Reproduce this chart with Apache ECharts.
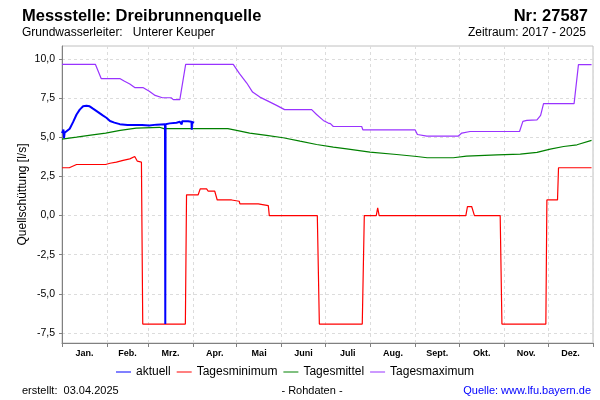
<!DOCTYPE html>
<html><head><meta charset="utf-8">
<script src="https://cdn.jsdelivr.net/npm/echarts@6/dist/echarts.min.js"></script>
<style>html,body{margin:0;padding:0;background:#fff}#c{width:600px;height:400px}</style>
</head><body><div id="c"></div>
<script>
const monthLabels = ['Jan.','Feb.','Mrz.','Apr.','Mai','Juni','Juli','Aug.','Sept.','Okt.','Nov.','Dez.'];
const monthStarts = [0,31,59,90,120,151,181,212,243,273,304,334,365];
const yTicks = [-7.5,-5,-2.5,0,2.5,5,7.5,10];

// [day of year, l/s]
const aktuell = [[0,5.28],[1,5.5],[1.4,4.95],[1.8,5.3],[3,5.4],[5.3,5.56],[7.6,5.98],[10,6.47],[12.2,6.78],[14.5,6.99],[16.8,7.03],[19,6.99],[21.3,6.84],[24.8,6.62],[28,6.41],[30.5,6.26],[33,6.05],[36,5.95],[39.7,5.85],[45,5.8],[50,5.79],[55,5.8],[60,5.77],[65,5.82],[70.8,5.85],[71,-6.94],[71.2,5.85],[74,5.9],[78.7,5.94],[81,6.0],[82,6.08],[82.3,5.83],[82.6,6.04],[86.7,6.04],[89,6.0],[89.2,5.49],[89.4,6.0],[90.8,5.94]];
const tagesminimum = [[0,3.06],[5,3.06],[10,3.27],[30,3.27],[33,3.35],[37.4,3.42],[42,3.53],[46.6,3.63],[50,3.78],[50.7,3.74],[51.8,3.48],[54.6,3.42],[55.5,-6.94],[84.8,-6.94],[85.6,1.33],[93.6,1.33],[95,1.71],[99.4,1.71],[100.5,1.56],[105,1.56],[106.7,1.0],[116.6,1.0],[117.2,0.92],[121.8,0.92],[122.3,0.75],[134.9,0.75],[135.4,0.64],[141.8,0.64],[142.5,0],[175.5,0],[176.9,-6.94],[206.4,-6.94],[207.8,0],[216,0],[217,0.49],[218,0],[277.6,0],[278.7,0.58],[281.6,0.58],[283.5,0],[301.2,0],[302.4,-6.94],[332.6,-6.94],[333.3,1.0],[340.6,1.0],[341.3,3.06],[364,3.06]];
const tagesmittel = [[0,4.89],[10,5.02],[21,5.17],[30,5.28],[40,5.45],[51,5.6],[67,5.65],[70,5.56],[114,5.56],[120,5.45],[129,5.28],[140.6,5.13],[152,4.98],[163.6,4.76],[175,4.55],[186.5,4.38],[195.7,4.27],[211.7,4.06],[230,3.91],[243.9,3.78],[251,3.70],[269,3.70],[278,3.80],[299,3.89],[315,3.93],[326.5,4.04],[335.6,4.25],[344.8,4.42],[354,4.53],[364,4.81]];
const tagesmaximum = [[0,9.67],[23,9.67],[27,8.76],[40,8.76],[43,8.59],[46.6,8.42],[50,8.19],[55.6,8.19],[60,7.95],[64,7.69],[69,7.54],[75,7.54],[76.5,7.42],[81,7.42],[82,7.5],[85,9.67],[117.7,9.67],[122,9.08],[127,8.48],[131,7.9],[136,7.58],[140.6,7.37],[147.5,7.05],[153,6.78],[171.6,6.78],[175,6.47],[179.6,6.09],[183,5.92],[184.5,5.88],[186.5,5.70],[206,5.70],[206.8,5.49],[242.7,5.49],[244.3,5.19],[250.8,5.09],[272.5,5.09],[274.8,5.28],[280.5,5.38],[314.5,5.38],[316.8,6.03],[319.5,6.09],[326.5,6.13],[329,6.41],[331,7.16],[352,7.16],[355,9.66],[364,9.66]];

const monthCenters = monthLabels.map((m,i)=>(monthStarts[i]+monthStarts[i+1])/2);
const FONT = '"Liberation Sans", Arial, sans-serif';
const chart = echarts.init(document.getElementById('c'));
const grid = '#dcdcdc';
function txt(x,y,text,font,align,color){return {type:'text',x:x,y:y,style:{text:text,font:font,textAlign:align||'left',textVerticalAlign:'middle',fill:color||'#000'}};}
chart.setOption({
  animation:false,
  backgroundColor:'#fff',
  grid:{left:62,right:7,top:46,bottom:57,show:true,borderColor:'#c0c0c0',borderWidth:1},
  xAxis:{type:'value',min:0,max:365,
    axisLine:{show:true,onZero:false,lineStyle:{color:'#808080'}},
    axisTick:{show:true,customValues:monthStarts,length:4,lineStyle:{color:'#808080'}},
    axisLabel:{customValues:monthCenters,margin:6,color:'#000',fontFamily:FONT,fontSize:9,fontWeight:'bold',
      formatter:v=>{const i=monthCenters.findIndex(c=>Math.abs(c-v)<0.01);return i>=0?monthLabels[i]:'';}},
    splitLine:{show:true,lineStyle:{color:grid,type:[3,3]}}},
  yAxis:{type:'value',min:-8.15,max:10.85,
    name:'Quellschüttung [l/s]',nameLocation:'middle',nameGap:33,nameMoveOverlap:false,
    nameTextStyle:{color:'#000',fontFamily:FONT,fontSize:12},
    axisLine:{show:true,lineStyle:{color:'#808080'}},
    axisTick:{show:true,customValues:yTicks,length:3,lineStyle:{color:'#808080'}},
    axisLabel:{customValues:yTicks,margin:7,color:'#000',fontFamily:FONT,fontSize:10.5,
      formatter:v=>v.toFixed(1).replace('.',',')},
    splitLine:{show:true,lineStyle:{color:grid,type:[3,3]}}},
  legend:{left:116,top:366,padding:0,icon:'rect',itemWidth:15,itemHeight:1,itemGap:6,
    textStyle:{color:'#000',fontFamily:FONT,fontSize:12},
    data:['aktuell','Tagesminimum','Tagesmittel','Tagesmaximum']},
  series:[
    {name:'Tagesmaximum',type:'line',data:tagesmaximum,showSymbol:false,color:'#9933ff',lineStyle:{width:1.2},z:2},
    {name:'Tagesmittel',type:'line',data:tagesmittel,showSymbol:false,color:'#008000',lineStyle:{width:1.2},z:2},
    {name:'Tagesminimum',type:'line',data:tagesminimum,showSymbol:false,color:'#ff0000',lineStyle:{width:1.2},z:2},
    {name:'aktuell',type:'line',data:aktuell,showSymbol:false,color:'#0000ff',lineStyle:{width:2},z:3}
  ],
  graphic:[
    txt(22,16.5,'Messstelle: Dreibrunnenquelle','bold 16.5px '+FONT),
    txt(588,16.5,'Nr: 27587','bold 16.5px '+FONT,'right'),
    txt(22,32.5,'Grundwasserleiter:   Unterer Keuper','12px '+FONT),
    txt(586,32.5,'Zeitraum: 2017 - 2025','12px '+FONT,'right'),
    txt(22,391,'erstellt:  03.04.2025','11px '+FONT),
    txt(312,391,'- Rohdaten -','11px '+FONT,'center'),
    txt(591,391,'Quelle: www.lfu.bayern.de','11px '+FONT,'right','#0000ff')
  ]
});
</script></body></html>
